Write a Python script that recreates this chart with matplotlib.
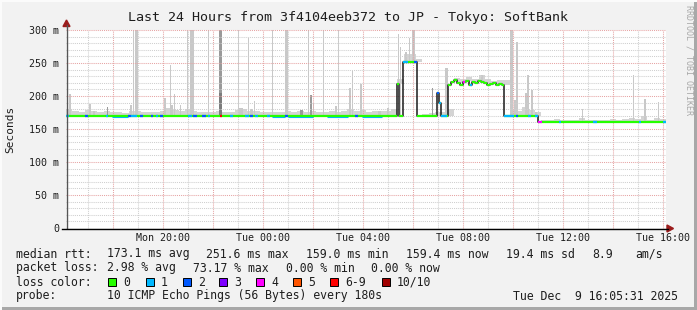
import numpy as np
import matplotlib
matplotlib.use("Agg")
import matplotlib.pyplot as plt
from matplotlib.patches import Polygon, Rectangle
from matplotlib.lines import Line2D

# ---- data (hours since Mon 00:00, values in ms) ----
title = "Last 24 Hours from 3f4104eeb372 to JP - Tokyo: SoftBank"
t_start, t_end = 16.12, 40.12

tick_hours = [20, 24, 28, 32, 36, 40]
tick_labels = ["Mon 20:00", "Tue 00:00", "Tue 04:00", "Tue 08:00", "Tue 12:00", "Tue 16:00"]
ytick_vals = [0, 50, 100, 150, 200, 250, 300]
ytick_labels = ["0", "50 m", "100 m", "150 m", "200 m", "250 m", "300 m"]

# median rtt, step-wise (start hour, value)
med_h = [16.12, 29.36, 29.44, 29.60, 30.16, 30.96, 31.04, 31.12, 31.40,
         31.52, 31.64, 31.76, 31.88, 32.00, 32.12, 32.24, 32.36, 32.48,
         32.60, 32.72, 32.84, 32.96, 33.08, 33.20, 33.32, 33.44, 33.56,
         33.64, 35.00]
med_v = [169, 218, 169, 252, 169, 205, 190, 169, 217,
         221, 224, 219, 217, 221, 222, 216, 221, 219,
         223, 221, 219, 217, 218, 219, 217, 218, 216,
         169, 160]

# loss periods (start, end, loss class); class 0 elsewhere
loss_s = [16.12, 16.88, 17.72, 18.60, 18.72, 19.08, 19.52, 19.72, 19.88,
          21.00, 21.20, 21.56, 21.80, 22.28, 22.68, 23.28, 23.48, 23.68, 24.16,
          24.88, 27.68, 29.60, 30.04, 30.96, 31.04,
          32.00, 32.28, 33.64, 34.12, 34.60, 34.88, 35.00, 35.84, 37.20, 39.04,
          40.00]
loss_e = [16.24, 17.00, 17.80, 18.72, 18.96, 19.20, 19.60, 19.80, 20.00,
          21.16, 21.36, 21.72, 21.88, 22.36, 22.80, 23.44, 23.60, 23.80, 24.28,
          25.00, 27.80, 29.80, 30.16, 31.04, 31.36,
          32.08, 32.36, 34.04, 34.20, 34.72, 35.00, 35.16, 35.92, 37.36, 39.12,
          40.12]
loss_c = [1, 2, 1, 2, 1, 2, 2, 1, 2,
          1, 2, 2, 1, 6, 1, 1, 2, 1, 1,
          2, 2, 1, 2, 2, 1,
          4, 1, 1, 2, 1, 1, 4, 1, 1, 1,
          1]

# periods where the line shows loss 0 over loss 1
mixed_s = [17.96, 24.36, 25.00, 26.56, 27.96]
mixed_e = [18.60, 24.88, 26.00, 27.40, 28.76]

# smoke spikes: hour, top value, width (hours)
spike_h = [16.28, 17.08, 17.24, 18.16, 18.72, 18.80, 18.94, 20.08, 20.20, 20.28,
           20.36, 20.44, 20.72, 20.96, 21.14, 21.80, 23.00, 23.12, 23.40, 23.52,
           23.64, 24.36, 24.94, 25.80, 26.00, 26.40, 26.92, 27.00, 27.48, 27.56,
           27.92, 28.64, 29.00, 29.40, 29.48, 29.70, 29.84, 30.04, 31.32, 32.76,
           33.94, 34.08, 34.16, 34.52, 34.60, 34.76, 34.92, 36.76, 38.80, 39.28,
           39.80]
spike_top = [203, 188, 177, 310, 186, 310, 310, 197, 297, 247,
             186, 203, 186, 310, 310, 310, 310, 182, 288, 180,
             192, 310, 310, 310, 190, 310, 185, 310, 212, 238,
             218, 178, 182, 294, 274, 267, 288, 310, 242, 232,
             310, 194, 282, 204, 232, 209, 176, 180, 232, 196,
             191]
spike_w = [0.08, 0.08, 0.08, 0.04, 0.08, 0.04, 0.12, 0.08, 0.04, 0.04,
           0.08, 0.04, 0.04, 0.04, 0.16, 0.04, 0.04, 0.16, 0.04, 0.12,
           0.04, 0.04, 0.12, 0.04, 0.04, 0.04, 0.08, 0.04, 0.08, 0.04,
           0.08, 0.12, 0.08, 0.04, 0.04, 0.08, 0.04, 0.12, 0.12, 0.08,
           0.12, 0.08, 0.08, 0.08, 0.08, 0.08, 0.08, 0.04, 0.04, 0.08,
           0.04]

# denser (darker) smoke
dark_h = [17.00, 17.76, 22.30, 25.52, 25.92, 30.76]
dark_top = [200, 183, 310, 179, 202, 212]
dark_w = [0.04, 0.04, 0.12, 0.12, 0.08, 0.04]

# light smoke fuzz above the median, every 15 min (ms above median)
fuzz = [11, 9, 7, 10, 9, 6, 8, 6, 7, 5, 8, 9,
        6, 7, 6, 8, 13, 10, 8, 11, 9, 7, 6, 6,
        8, 6, 7, 10, 11, 9, 8, 7, 6, 7, 6, 8,
        7, 9, 7, 8, 6, 6, 8, 7, 9, 11, 8, 10,
        7, 8, 9, 8, 11, 8, 12, 12, 4, 4, 5, 6,
        7, 11, 7, 6, 7, 5, 9, 6, 5, 7, 9, 12,
        8, 14, 10, 6, 3, 4, 5, 3, 4, 4, 6, 3,
        4, 3, 4, 5, 4, 5, 7, 5, 9, 4, 7, 5]

loss_colors = ["#26ff00", "#00b8ff", "#0059ff", "#7e00ff", "#ff00ff",
               "#ff5500", "#ff0000", "#a00000"]
loss_names = ["0", "1", "2", "3", "4", "5", "6-9", "10/10"]

rtt_stats = ["median rtt:", "173.1 ms avg", "251.6 ms max", "159.0 ms min",
             "159.4 ms now", "19.4 ms sd", "8.9", "am/s"]
loss_stats = ["packet loss:", "2.98 % avg", "73.17 % max", "0.00 % min", "0.00 % now"]
probe_text = ["probe:", "10 ICMP Echo Pings (56 Bytes) every 180s", "Tue Dec  9 16:05:31 2025"]

# ---- figure ----
W, H = 697, 310
fig = plt.figure(figsize=(W / 100, H / 100), dpi=100)
fig.patch.set_facecolor("#f2f2f2")
mono = "DejaVu Sans Mono"
txt_col = "#1e1e1e"


def fx(x):
    return x / W


def fy(y):
    return 1 - y / H


ax = fig.add_axes([fx(66), fy(228), 600 / W, 198 / H])
ax.set_facecolor("white")
ax.set_xlim(t_start, t_end)
ax.set_ylim(0, 300)
for s in ax.spines.values():
    s.set_visible(False)

med_h_arr = np.array(med_h)
med_v_arr = np.array(med_v)


def med_at(h):
    i = np.searchsorted(med_h_arr, h, side="right") - 1
    return med_v_arr[np.clip(i, 0, len(med_v_arr) - 1)]


# fuzz
fuzz_t = t_start + 0.25 * np.arange(len(fuzz))
ax.bar(fuzz_t, fuzz, bottom=med_at(fuzz_t), width=0.25, align="edge",
       color="#d4d4d4", linewidth=0, zorder=1)

# spikes
sh = np.array(spike_h)
ax.bar(sh, np.array(spike_top) - med_at(sh), bottom=med_at(sh), width=spike_w,
       color="#c8c8c8", linewidth=0, zorder=2)
dh = np.array(dark_h)
ax.bar(dh, np.array(dark_top) - med_at(dh), bottom=med_at(dh), width=dark_w,
       color="#9a9a9a", linewidth=0, zorder=3)
ax.bar([22.30], [205 - 169], bottom=[169], width=[0.12],
       color="#7c7c7c", linewidth=0, zorder=3)

# grid
for h in range(17, 41):
    ax.axvline(h, color="#e6a4a4" if h % 2 == 0 else "#cfcfcf",
               ls=(0, (1, 1)), lw=0.75, zorder=4, clip_on=False)
for v in range(10, 301, 10):
    ax.axhline(v, color="#e6a4a4" if v % 50 == 0 else "#cfcfcf",
               ls=(0, (1, 1)), lw=0.75, zorder=4, clip_on=False)

# median: dark step then coloured horizontals
ends = med_h[1:] + [t_end]
ax.step(med_h + [t_end], med_v + [med_v[-1]], where="post",
        color="#1a1a1a", lw=1.1, zorder=5)
ax.hlines(med_v, med_h, ends, colors=loss_colors[0], lw=1.6, zorder=6,
          capstyle="butt")


def paint(s, e, color, off=0.0, lw=1.6, z=7):
    for a, b, v in zip(med_h, ends, med_v):
        lo, hi = max(a, s), min(b, e)
        if hi > lo:
            ax.hlines(v + off, lo, hi, colors=color, lw=lw, zorder=z,
                      capstyle="butt")


for s, e in zip(mixed_s, mixed_e):
    paint(s, e, loss_colors[1], off=-0.8, lw=0.8)
    paint(s, e, loss_colors[0], off=0.8, lw=0.8)
for s, e, c in zip(loss_s, loss_e, loss_c):
    paint(s, e, loss_colors[c])

# ticks
ax.set_xticks(tick_hours)
ax.set_xticklabels(tick_labels, fontfamily=mono, fontsize=7.2, color=txt_col)
ax.set_yticks(ytick_vals)
ax.set_yticklabels(ytick_labels, fontfamily=mono, fontsize=7.2, color=txt_col)
ax.tick_params(axis="x", length=0, pad=3.5)
ax.tick_params(axis="y", length=0, pad=5)

# axis lines and arrows
fig.add_artist(Line2D([fx(66.5), fx(66.5)], [fy(228), fy(25)], color="#555555", lw=1.0))
fig.add_artist(Line2D([fx(62), fx(668)], [fy(228.5), fy(228.5)], color="black", lw=1.0))
fig.add_artist(Polygon([(fx(63), fy(26.5)), (fx(70), fy(26.5)), (fx(66.5), fy(20))],
                       closed=True, color="#9b1c1c", transform=fig.transFigure))
fig.add_artist(Polygon([(fx(667), fy(225)), (fx(667), fy(232)), (fx(673.5), fy(228.5))],
                       closed=True, color="#9b1c1c", transform=fig.transFigure))

# titles
fig.text(fx(348), fy(18), title, ha="center", va="center",
         fontfamily=mono, fontsize=9.6, color=txt_col)
fig.text(fx(10), fy(129), "Seconds", rotation=90, ha="center", va="center",
         fontfamily=mono, fontsize=8.0, color=txt_col)
fig.text(fx(688.5), fy(60), "RRDTOOL / TOBI OETIKER", rotation=270,
         ha="center", va="center", fontfamily=mono, fontsize=6.0, color="#a8a8a8")

# legend
fs = 8.3
for x, s in zip([16, 107, 206, 306, 406, 506, 592, 635], rtt_stats):
    fig.text(fx(x), fy(254), s, ha="left", va="center", fontfamily=mono,
             fontsize=fs, color=txt_col)
for x, s in zip([16, 107, 193, 286, 371], loss_stats):
    fig.text(fx(x), fy(268), s, ha="left", va="center", fontfamily=mono,
             fontsize=fs, color=txt_col)
fig.text(fx(16), fy(282), "loss color:", ha="left", va="center",
         fontfamily=mono, fontsize=fs, color=txt_col)
box_x = [108, 146, 183, 219, 256, 293, 330, 382]
for x, c, n in zip(box_x, loss_colors, loss_names):
    fig.add_artist(Rectangle((fx(x), fy(286)), 8 / W, 8 / H, facecolor=c,
                             edgecolor="black", lw=0.7, transform=fig.transFigure))
    fig.text(fx(x + 15), fy(282), n, ha="left", va="center", fontfamily=mono,
             fontsize=fs, color=txt_col)
for x, s in zip([16, 107, 513], probe_text):
    fig.text(fx(x), fy(296), s, ha="left", va="center", fontfamily=mono,
             fontsize=fs, color=txt_col)

# frame
fig.add_artist(Rectangle((fx(694), 0), 3 / W, 1, facecolor="#a8a8a8",
                         edgecolor="none", transform=fig.transFigure))
fig.add_artist(Rectangle((0, 0), 1, 3 / H, facecolor="#a8a8a8",
                         edgecolor="none", transform=fig.transFigure))
fig.add_artist(Rectangle((0, fy(2)), 1, 2 / H, facecolor="#fbfbfb",
                         edgecolor="none", transform=fig.transFigure))
fig.add_artist(Rectangle((0, 0), 2 / W, 1, facecolor="#fbfbfb",
                         edgecolor="none", transform=fig.transFigure))

fig.savefig("out.png", dpi=100, facecolor=fig.get_facecolor())
